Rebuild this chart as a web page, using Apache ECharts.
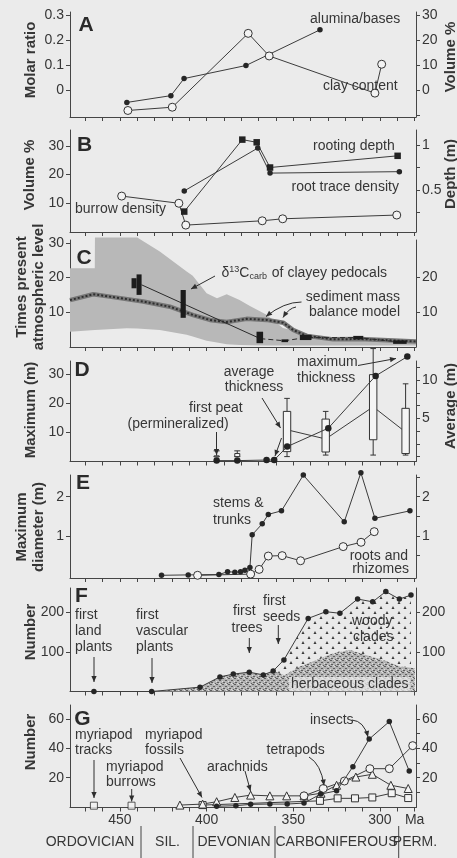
<!DOCTYPE html>
<html>
<head>
<meta charset="utf-8">
<title>Paleozoic land ecosystems</title>
<script src="https://cdn.jsdelivr.net/npm/echarts@6/dist/echarts.min.js"></script>
<style>
  html, body { margin: 0; padding: 0; background: #ebebeb; }
  #chart { width: 457px; height: 858px; }
</style>
</head>
<body>
<div id="chart"></div>
<script>
// ages are in Ma (millions of years ago), older to the left

// A: paleosol chemistry
const aluminaAges = [446, 420.6, 413, 377.3, 334.6];
const aluminaRatio = [-0.048, -0.021, 0.047, 0.099, 0.241];
const clayAges = [445.4, 419.8, 376, 363.9, 302.9, 299];
const clayVolume = [-8, -6.7, 22.7, 13.7, -1.1, 10.4];

// B: roots and burrows
const rootingAges = [412.9, 379.4, 371.1, 363.4, 289.8];
const rootingDepth = [0.26, 1.06, 1.03, 0.75, 0.88];
const rootTraceAges = [412.9, 370.5, 363.4, 288.8];
const rootTraceVolume = [14.3, 29.2, 20.5, 21.0];
const burrowAges = [449, 416, 412, 367.9, 356.1, 290.3];
const burrowVolume = [12.5, 10, 2.4, 3.9, 4.6, 5.9];

// C: atmospheric CO2
const bandAges = [478.8, 464.5, 464.4, 446, 440, 427, 411.5, 408, 400, 394, 388.4, 381, 375, 365.4, 356, 346, 336.5, 327, 279.2];
const bandUpper = [22.7, 22.7, 31.5, 31.5, 31.5, 27.5, 21.7, 20.5, 15.5, 14, 15.2, 13.5, 11.8, 9.3, 5.5, 4.3, 3.2, 2.6, 1.8];
const bandLower = [4.4, 4.9, 4.9, 5.4, 5.3, 4.9, 3.5, 3.0, 1.8, 1.3, 0.8, 0.6, 0.5, 0.4, 0.4, 0.4, 0.4, 0.4, 0.4];
const modelAges = [478.8, 465.4, 455.8, 436.6, 421.2, 407.7, 398.1, 388.4, 376.9, 365.4, 355.8, 350, 342.3, 327, 311.5, 279.2];
const modelLevel = [13.5, 15.2, 14.5, 13.1, 11.6, 9.2, 7.8, 7.2, 8.1, 7.8, 7.0, 4.9, 3.2, 2.2, 2.3, 1.6];
const d13cOld = [443.3, 440.4, 415, 371.2, 356.8, 346.2, 315.4, 292.4];
const d13cYoung = [440.4, 437.5, 412, 367.4, 353, 339.5, 309.6, 284.6];
const d13cLow = [16.9, 15, 8.4, 1.1, 1.4, 2.0, 2.2, 0.9];
const d13cHigh = [19.8, 20.9, 16.4, 4.4, 2.2, 3.5, 3.2, 1.9];
const d13cTrendAges = [437.5, 369];
const d13cTrend = [17.9, 2.4];
const d13cLinkAges = [369, 355, 343, 312.5, 288.5];
const d13cLink = [2.4, 1.8, 2.7, 2.7, 1.4];

// D: coal thickness
const maxThickAges = [394.2, 382.3, 365.4, 361, 353.5, 329.8, 302.5, 284.2];
const maxThick = [0.3, 0.3, 0.5, 0.5, 5.1, 11.4, 29.3, 35.9];
const boxAges = [394.2, 382.3, 353.6, 331.3, 303.9, 285.2];
const boxMin = [0, 0, 0, 0.2, 0.2, 0.2];
const boxQ1 = [0, 0, 0.65, 0.6, 2.2, 0.4];
const boxQ3 = [0.1, 0.4, 5.9, 4.9, 10.7, 6.3];
const boxMax = [0.75, 0.75, 7.6, 5.9, 14.1, 9.5];
const avgAges = [353.6, 331.3, 303.9, 285.2];
const avgThick = [3.5, 2.3, 6.5, 3.2];

// E: plant axes
const stemAges = [426, 410.6, 392.9, 387.9, 383.7, 380.4, 377.9, 375, 373.7, 367.9, 364.4, 356.8, 344.2, 320.6, 311, 302.9, 282.7];
const stemDiam = [0, 0.01, 0.02, 0.09, 0.08, 0.09, 0.13, 0.2, 1.03, 1.31, 1.55, 1.64, 2.55, 1.36, 2.61, 1.45, 1.64];
const rootAges = [405.2, 374.6, 369.7, 364.4, 356.4, 345.8, 321.2, 310.9, 303.3];
const rootDiam = [0, 0.03, 0.15, 0.49, 0.5, 0.37, 0.73, 0.84, 1.11];

// F: plant clades
const cladeAges = [465, 431.7, 403.8, 392.3, 384.6, 375.4, 367.3, 361.6, 355.4, 341.4, 331.2, 323.1, 312.9, 304.2, 296.6, 288.8, 282.1];
const cladeCount = [0, 0, 11, 37, 44, 49, 42, 52, 80, 185, 202, 198, 234, 227, 253, 234, 244];
const herbAges = [465, 431.7, 403.8, 392.3, 384.6, 375.4, 367.3, 361.6, 355, 346.2, 336.6, 327, 317.3, 307.7, 298.1, 288.5, 279.8];
const herbCount = [0, 0, 11, 37, 44, 49, 42, 52, 41, 63, 80, 97, 105, 92, 80, 63, 59];

// G: animals
const insectAges = [394.2, 383.1, 374.6, 363.5, 353.5, 343.8, 334.2, 325, 315.6, 306.2, 294.6, 283.1];
const insectCount = [0.5, 0.9, 1.8, 2, 2, 2.7, 8.8, 11, 27.5, 46.3, 58.2, 24.5];
const tetrapodAges = [343.8, 332.7, 320.5, 305.8, 294.6, 281.1];
const tetrapodCount = [7.6, 12.6, 17.7, 26.1, 26.1, 41.8];
const arachnidAges = [415.4, 402.3, 394.2, 383.7, 374.6, 363.5, 353.8, 343.8, 334, 325, 313.9, 304.4, 293.7, 283.7];
const arachnidCount = [1.3, 2, 3.6, 6.5, 8.1, 7.6, 7.6, 7.6, 9.4, 14.8, 20.4, 22.3, 14.8, 12.6];
const myriapodAges = [402.3, 334.6, 324.4, 314.4, 304.4, 293.2, 283.7];
const myriapodCount = [1.3, 4.2, 5.9, 5.9, 6.5, 9.4, 6.1];
const traceAges = [465, 443.3];
const traceCount = [0.9, 0.9];

// axis ticks
const ageTicks = [470, 460, 450, 440, 430, 420, 410, 400, 390, 380, 370, 360, 350, 340, 330, 320, 310, 300, 290, 280];
const ageLabels = [450, 400, 350, 300, 280];

const FONT = '"Liberation Sans", Arial, Helvetica, sans-serif';
const INK = '#363636';
const AXIS = '#454545';
const zip = (a, b) => a.map((v, i) => [v, b[i]]);

const panels = [
  { top: 12, bottom: 117 },
  { top: 130, bottom: 232 },
  { top: 240, bottom: 347 },
  { top: 361, bottom: 461.5 },
  { top: 475, bottom: 578 },
  { top: 588, bottom: 691.5 },
  { top: 705, bottom: 807.5 }
];

function xAxisFor(i) {
  const last = i === panels.length - 1;
  return {
    gridIndex: i, type: 'value', inverse: true, min: 279.2, max: 478.8,
    axisLine: { show: true, onZero: false, lineStyle: { color: AXIS, width: 1 } },
    axisTick: { show: true, customValues: ageTicks, length: 4, lineStyle: { color: AXIS } },
    axisLabel: last ? {
      customValues: ageLabels, margin: 6, fontSize: 14, color: INK, fontFamily: FONT,
      formatter: v => (v === 280 ? 'Ma' : String(v))
    } : { show: false },
    splitLine: { show: false }
  };
}

function yAxisFor(gridIndex, position, min, max, ticks, labels) {
  return {
    gridIndex, type: 'value', position, min, max,
    axisLine: { show: true, onZero: false, lineStyle: { color: AXIS, width: 1 } },
    axisTick: { show: true, customValues: ticks, length: 4, lineStyle: { color: AXIS } },
    axisLabel: { customValues: labels, margin: 6, fontSize: 14, color: INK, fontFamily: FONT },
    splitLine: { show: false }
  };
}

const yAxes = [
  yAxisFor(0, 'left', -0.106, 0.312, [0, 0.1, 0.2, 0.3], [0, 0.1, 0.2, 0.3]),
  yAxisFor(0, 'right', -10.6, 31.2, [-10, 0, 10, 20, 30], [0, 10, 20, 30]),
  yAxisFor(1, 'left', 0, 35.5, [10, 20, 30], [10, 20, 30]),
  yAxisFor(1, 'right', 0.033, 1.167, [0.25, 0.5, 0.75, 1], [0.5, 1]),
  yAxisFor(2, 'left', 0, 30.8, [10, 20, 30], [10, 20, 30]),
  yAxisFor(2, 'right', 0, 30.8, [10, 20], [10, 20]),
  yAxisFor(3, 'left', 0, 34.4, [10, 20, 30], [10, 20, 30]),
  yAxisFor(3, 'right', -0.64, 12.48, [0, 5 / 3, 10 / 3, 5, 20 / 3, 25 / 3, 10, 35 / 3], [5, 10]),
  yAxisFor(4, 'left', -0.069, 2.552, [1, 2], [1, 2]),
  yAxisFor(4, 'right', -0.069, 2.552, [0.5, 1, 1.5, 2, 2.5], [1, 2]),
  yAxisFor(5, 'left', 0, 262, [100, 200], [100, 200]),
  yAxisFor(5, 'right', 0, 262, [100, 200], [100, 200]),
  yAxisFor(6, 'left', -0.34, 69.5, [20, 40, 60], [20, 40, 60]),
  yAxisFor(6, 'right', -0.34, 69.5, [10, 20, 30, 40, 50, 60], [20, 40, 60])
];

const filledDot = { symbol: 'circle', symbolSize: 5.5, itemStyle: { color: '#262626' } };
const openDot = { symbol: 'circle', symbolSize: 8, itemStyle: { color: '#f3f3f3', borderColor: '#333', borderWidth: 1 } };
const openSquare = { symbol: 'rect', symbolSize: 7, itemStyle: { color: '#f3f3f3', borderColor: '#333', borderWidth: 1 } };
const openTriangle = { symbol: 'triangle', symbolSize: 8, itemStyle: { color: '#f3f3f3', borderColor: '#333', borderWidth: 1 } };
const filledSquare = { symbol: 'rect', symbolSize: 6.5, itemStyle: { color: '#222' } };

function line(name, grid, yIdx, ages, vals, marker, extra) {
  return Object.assign({
    name, type: 'line', xAxisIndex: grid, yAxisIndex: yIdx,
    data: zip(ages, vals), showSymbol: true,
    lineStyle: { color: '#3c3c3c', width: 1 }, clip: false, z: 3
  }, marker, extra || {});
}

// fill patterns for panel F
function makePattern(w, h, draw) {
  const c = document.createElement('canvas');
  c.width = w; c.height = h;
  draw(c.getContext('2d'));
  return c;
}
const woodyPattern = makePattern(12, 10, ctx => {
  ctx.fillStyle = '#e9e9e9'; ctx.fillRect(0, 0, 12, 10);
  ctx.fillStyle = '#3a3a3a';
  [[3, 1], [9, 6]].forEach(([x, y]) => {
    ctx.beginPath(); ctx.moveTo(x, y); ctx.lineTo(x - 1.5, y + 3); ctx.lineTo(x + 1.5, y + 3); ctx.closePath(); ctx.fill();
  });
});
const herbPattern = makePattern(6, 6, ctx => {
  ctx.fillStyle = '#b3b3b3'; ctx.fillRect(0, 0, 6, 6);
  ctx.fillStyle = '#5e5e5e';
  ctx.fillRect(0, 0, 2, 1); ctx.fillRect(3, 2, 2, 1); ctx.fillRect(1, 4, 2, 1); ctx.fillRect(5, 5, 1, 1);
  ctx.fillStyle = '#dedede';
  ctx.fillRect(4, 0, 1, 1); ctx.fillRect(0, 3, 1, 1); ctx.fillRect(3, 5, 1, 1);
});

const series = [
  // A
  line('alumina/bases', 0, 0, aluminaAges, aluminaRatio, filledDot),
  line('clay content', 0, 1, clayAges, clayVolume, openDot),
  // B
  line('rooting depth', 1, 3, rootingAges, rootingDepth, filledSquare),
  line('root trace density', 1, 2, rootTraceAges, rootTraceVolume, filledDot),
  line('burrow density', 1, 2, burrowAges, burrowVolume, openDot),
  // C
  {
    name: 'model range', type: 'custom', xAxisIndex: 2, yAxisIndex: 4, z: 1,
    data: bandAges.map((a, i) => [a, bandLower[i], bandUpper[i]]),
    encode: { x: 0, y: [1, 2] },
    renderItem: (params, api) => {
      if (params.dataIndex !== 0) return null;
      const up = bandAges.map((a, i) => api.coord([a, bandUpper[i]]));
      const lo = bandAges.map((a, i) => api.coord([a, bandLower[i]])).reverse();
      return { type: 'polygon', shape: { points: up.concat(lo) }, style: { fill: '#b8b8b8' } };
    }
  },
  line('sediment mass balance model', 2, 4, modelAges, modelLevel, { showSymbol: false, symbol: 'none' },
    { lineStyle: { color: '#767676', width: 4.5 }, z: 2 }),
  line('model dots', 2, 4, modelAges, modelLevel, { showSymbol: false, symbol: 'none' },
    { lineStyle: { color: '#2e2e2e', width: 2, type: [2, 2] }, z: 2 }),
  line('d13C trend', 2, 4, d13cTrendAges, d13cTrend, { showSymbol: false, symbol: 'none' },
    { lineStyle: { color: '#2a2a2a', width: 1 } }),
  line('d13C link', 2, 4, d13cLinkAges, d13cLink, { showSymbol: false, symbol: 'none' },
    { lineStyle: { color: '#2a2a2a', width: 1, type: [5, 3] } }),
  {
    name: 'd13C of clayey pedocals', type: 'custom', xAxisIndex: 2, yAxisIndex: 4, z: 4,
    data: d13cOld.map((a, i) => [a, d13cYoung[i], d13cLow[i], d13cHigh[i]]),
    encode: { x: [0, 1], y: [2, 3] },
    renderItem: (params, api) => {
      const p1 = api.coord([api.value(0), api.value(3)]);
      const p2 = api.coord([api.value(1), api.value(2)]);
      return {
        type: 'rect',
        shape: { x: Math.min(p1[0], p2[0]), y: Math.min(p1[1], p2[1]), width: Math.abs(p2[0] - p1[0]), height: Math.abs(p2[1] - p1[1]) },
        style: { fill: '#1c1c1c' }
      };
    }
  },
  // D
  line('average', 3, 7, avgAges, avgThick, { showSymbol: false, symbol: 'none' }, { z: 2 }),
  {
    name: 'average thickness', type: 'custom', xAxisIndex: 3, yAxisIndex: 7, z: 3,
    data: boxAges.map((a, i) => [a, boxMin[i], boxQ1[i], boxQ3[i], boxMax[i]]),
    encode: { x: 0, y: [1, 2, 3, 4] },
    renderItem: (params, api) => {
      const age = api.value(0);
      const half = params.dataIndex < 2 ? 2.5 : 3.7;
      const cap = params.dataIndex < 2 ? 3 : 2.8;
      const top = api.coord([age, api.value(4)]);
      const q3 = api.coord([age, api.value(3)]);
      const q1 = api.coord([age, api.value(2)]);
      const bot = api.coord([age, api.value(1)]);
      const x = top[0];
      const st = { stroke: '#333', lineWidth: 1 };
      return {
        type: 'group', children: [
          { type: 'line', shape: { x1: x, y1: top[1], x2: x, y2: q3[1] }, style: st },
          { type: 'line', shape: { x1: x, y1: q1[1], x2: x, y2: bot[1] }, style: st },
          { type: 'line', shape: { x1: x - cap, y1: top[1], x2: x + cap, y2: top[1] }, style: st },
          { type: 'line', shape: { x1: x - cap, y1: bot[1], x2: x + cap, y2: bot[1] }, style: st },
          { type: 'rect', shape: { x: x - half, y: q3[1], width: 2 * half, height: Math.max(q1[1] - q3[1], 1) }, style: { fill: '#f5f5f5', stroke: '#333', lineWidth: 1 } }
        ]
      };
    }
  },
  line('maximum thickness', 3, 6, maxThickAges, maxThick, { symbol: 'circle', symbolSize: 6.5, itemStyle: { color: '#222' } }, { z: 5 }),
  // E
  line('stems & trunks', 4, 8, stemAges, stemDiam, filledDot),
  line('roots and rhizomes', 4, 8, rootAges, rootDiam, openDot),
  // F
  line('woody clades', 5, 10, cladeAges, cladeCount, { showSymbol: false, symbol: 'none' },
    { lineStyle: { width: 0 }, areaStyle: { color: { image: woodyPattern, repeat: 'repeat' }, opacity: 1, origin: 'start' }, clip: true, z: 1 }),
  line('herbaceous clades', 5, 10, herbAges, herbCount, { showSymbol: false, symbol: 'none' },
    { lineStyle: { width: 0 }, areaStyle: { color: { image: herbPattern, repeat: 'repeat' }, opacity: 1, origin: 'start' }, clip: true, z: 2 }),
  line('clades', 5, 10, cladeAges, cladeCount, filledDot, { z: 4 }),
  // G
  line('myriapods', 6, 12, myriapodAges, myriapodCount, openSquare),
  line('arachnids', 6, 12, arachnidAges, arachnidCount, openTriangle),
  line('tetrapods', 6, 12, tetrapodAges, tetrapodCount, openDot),
  line('insects', 6, 12, insectAges, insectCount, filledDot, { z: 5 }),
  Object.assign({ name: 'myriapod traces', type: 'scatter', xAxisIndex: 6, yAxisIndex: 12, data: zip(traceAges, traceCount), z: 4 }, openSquare)
];

// annotations (pixel layout)
const T = (x, y, text, align, extra) => ({
  type: 'text', x, y, silent: true, z: 50,
  style: Object.assign({
    text, font: `14px ${FONT}`, fill: INK,
    align: align || 'left', textAlign: align || 'left', verticalAlign: 'middle', textVerticalAlign: 'middle'
  }, extra || {})
});
const R = (x, y, text) => Object.assign(T(x, y, text, 'center', { font: `bold 15px ${FONT}`, lineHeight: 17 }), { rotation: Math.PI / 2 });
const L = (x, y, text) => T(x, y, text, 'center', { font: `bold 21px ${FONT}`, fill: '#2a2a2a' });

function head(x1, y1, x2, y2) {
  const a = Math.atan2(y2 - y1, x2 - x1), len = 6, w = 2.6;
  const bx = x2 - len * Math.cos(a), by = y2 - len * Math.sin(a);
  return {
    type: 'polygon', silent: true, z: 50,
    shape: { points: [[x2, y2], [bx + w * Math.sin(a), by - w * Math.cos(a)], [bx - w * Math.sin(a), by + w * Math.cos(a)]] },
    style: { fill: '#2e2e2e' }
  };
}
function arrow(x1, y1, x2, y2) {
  return [{ type: 'line', silent: true, z: 50, shape: { x1, y1, x2, y2 }, style: { stroke: '#2e2e2e', lineWidth: 1 } }, head(x1, y1, x2, y2)];
}
function curve(x1, y1, cx, cy, x2, y2) {
  return [{ type: 'bezierCurve', silent: true, z: 50, shape: { x1, y1, x2, y2, cpx1: cx, cpy1: cy }, style: { stroke: '#2e2e2e', lineWidth: 1, fill: null } }, head(cx, cy, x2, y2)];
}

const graphic = [
  L(86, 25, 'A'), L(84.5, 145, 'B'), L(84, 258, 'C'), L(82, 370, 'D'), L(83, 483, 'E'), L(81.5, 596, 'F'), L(82.5, 719, 'G'),
  R(31, 60, 'Molar ratio'), R(451, 57, 'Volume %'),
  R(30, 175, 'Volume %'), R(451, 174, 'Depth (m)'),
  R(30, 287, 'Times present\natmospheric level'),
  R(31, 410, 'Maximum (m)'), R(451, 406, 'Average (m)'),
  R(30, 527, 'Maximum\ndiameter (m)'),
  R(31, 632, 'Number'), R(31, 742, 'Number'),
  T(310, 19, 'alumina/bases'), T(323, 86, 'clay content'),
  T(313, 146, 'rooting depth'), T(291.5, 187, 'root trace density'), T(75, 209.5, 'burrow density'),
  T(221.5, 273.5, '{a|δ}{s|13}{a|C}{b|carb}{a| of clayey pedocals}', 'left', {
    rich: { a: { font: `14px ${FONT}`, fill: INK }, s: { font: `9px ${FONT}`, fill: INK, padding: [0, 0, 7, 0] }, b: { font: `9px ${FONT}`, fill: INK, padding: [6, 1, 0, 0] } }
  }),
  T(400, 297, 'sediment mass', 'right'), T(400, 312, 'balance model', 'right'),
  T(249, 372, 'average', 'center'), T(254, 387, 'thickness', 'center'),
  T(297, 362, 'maximum'), T(297, 378.5, 'thickness'),
  T(189, 408.5, 'first peat'), T(127.5, 424.5, '(permineralized)'),
  T(213, 503.5, 'stems &'), T(213, 520, 'trunks'),
  T(408, 556, 'roots and', 'right'), T(409, 569.5, 'rhizomes', 'right'),
  T(75, 615, 'first'), T(75, 631, 'land'), T(75, 647.5, 'plants'),
  T(136, 615, 'first'), T(136, 631, 'vascular'), T(136, 647.5, 'plants'),
  T(233, 611.5, 'first'), T(231.5, 628, 'trees'),
  T(263, 601.5, 'first'), T(263, 617, 'seeds'),
  T(352, 621.5, 'woody'), T(353, 637, 'clades'),
  T(289, 684, 'herbaceous clades', 'left', { backgroundColor: 'rgba(233,233,233,0.75)', padding: [0, 2, 0, 2] }),
  T(75, 735, 'myriapod'), T(75, 750.5, 'tracks'),
  T(106, 767, 'myriapod'), T(106, 782, 'burrows'),
  T(145, 735, 'myriapod'), T(145, 750.5, 'fossils'),
  T(207, 767, 'arachnids'), T(266.5, 750.5, 'tetrapods'), T(310, 720, 'insects'),
  T(90, 842, 'ORDOVICIAN', 'center'), T(167.5, 842, 'SIL.', 'center'), T(234, 842, 'DEVONIAN', 'center'),
  T(336.5, 842, 'CARBONIFEROUS', 'center'), T(415, 842, 'PERM.', 'center')
].concat(
  arrow(216.5, 432, 216.5, 455), arrow(281.5, 438, 275, 456), arrow(262, 398, 280.5, 428),
  arrow(358, 365.5, 396, 358.5), arrow(215, 276, 191, 289),
  curve(301.5, 302, 284, 302, 266, 316.5), curve(296, 307, 289, 308, 283, 317.5),
  arrow(94, 657, 94, 682), arrow(152, 658, 152, 683), arrow(249.3, 638, 249.3, 653), arrow(278.3, 625, 278.3, 644),
  arrow(94, 760, 94, 798), arrow(131.7, 789, 131.7, 801.5), arrow(180, 758, 202, 797.5), arrow(245, 771, 250.5, 791),
  curve(309, 757, 321, 764, 324, 785.5), curve(352, 720, 364, 721, 368, 737),
  [141, 193, 275, 398.7].map(x => ({ type: 'line', silent: true, shape: { x1: x, y1: 826, x2: x, y2: 858 }, style: { stroke: '#444', lineWidth: 1 } }))
);

const chart = echarts.init(document.getElementById('chart'), null, { renderer: 'canvas' });
chart.setOption({
  backgroundColor: '#ebebeb',
  animation: false,
  textStyle: { fontFamily: FONT },
  grid: panels.map(p => ({ left: 70, right: 41, top: p.top, height: p.bottom - p.top })),
  xAxis: panels.map((p, i) => xAxisFor(i)),
  yAxis: yAxes,
  series,
  graphic
});
</script>
</body>
</html>
